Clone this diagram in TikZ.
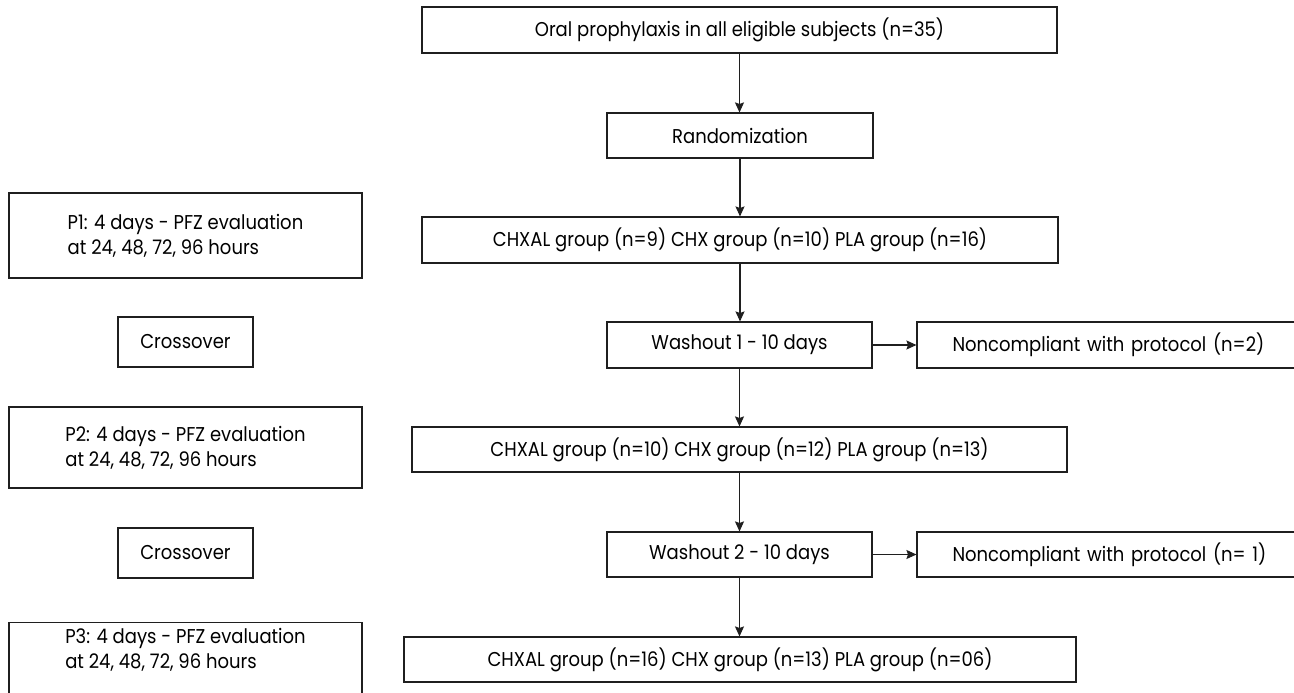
\documentclass[tikz,border=0pt]{standalone}
\usepackage{fontspec}
\setmainfont[FakeStretch=0.9]{Poppins}
\usetikzlibrary{arrows.meta}
\tikzset{
  txt/.style={font=\fontsize{20}{25}\selectfont},
  box/.style={draw=black!88, line width=1.1pt, rectangle, inner sep=0pt, align=center, txt},
  pbox/.style={box, align=left, minimum width=353pt},
  arr/.style={draw=black!88, line width=1.1pt, -{Stealth[length=10pt,width=9pt,inset=1.5pt]}}
}
\begin{document}
\begin{tikzpicture}[x=1pt,y=-1pt]
\useasboundingbox (0,0) rectangle (1294,693);
% centre column
\node[box, minimum width=635pt, minimum height=46pt] (b1) at (739.5,30) {Oral prophylaxis in all eligible subjects (n=35)};
\node[box, minimum width=266pt, minimum height=45pt] (rand) at (740,135.5) {Randomization};
\node[box, minimum width=636pt, minimum height=46pt] (g1) at (740,240) {CHXAL group (n=9) CHX group (n=10) PLA group (n=16)};
\node[box, minimum width=265pt, minimum height=46pt] (w1) at (739.5,345) {Washout 1 - 10 days};
\node[box, minimum width=379pt, minimum height=46pt, text width=340pt, align=left] (nc1) at (1106.5,345) {\hspace*{16pt}Noncompliant with protocol (n=2)};
\node[box, minimum width=655pt, minimum height=45pt] (g2) at (739.5,449.5) {CHXAL group (n=10) CHX group (n=12) PLA group (n=13)};
\node[box, minimum width=265pt, minimum height=45pt] (w2) at (739.5,554.5) {Washout 2 - 10 days};
\node[box, minimum width=379pt, minimum height=45pt, text width=340pt, align=left] (nc2) at (1106.5,554.5) {\hspace*{16pt}Noncompliant with protocol (n=~1)};
\node[box, minimum width=672pt, minimum height=45pt] (g3) at (740,659.5) {CHXAL group (n=16) CHX group (n=13) PLA group (n=06)};
% left column
\node[pbox, minimum height=85pt] (p1) at (185.5,235.5) {P1: 4 days - PFZ evaluation\\at 24, 48, 72, 96 hours};
\node[box, minimum width=135pt, minimum height=50pt] (c1) at (185.5,342) {Crossover};
\node[pbox, minimum height=81pt] (p2) at (185.5,447.5) {P2: 4 days - PFZ evaluation\\at 24, 48, 72, 96 hours};
\node[box, minimum width=135pt, minimum height=50pt] (c2) at (185.5,553) {Crossover};
\node[pbox, minimum height=90pt, anchor=north] (p3) at (185.5,622) {};
\node[txt, align=left, inner sep=0pt] (p3t) at (185.5,650) {P3: 4 days - PFZ evaluation\\at 24, 48, 72, 96 hours};
% connectors
\draw[arr] (b1.south) -- (b1.south |- rand.north);
\draw[arr] (rand.south) -- (rand.south |- g1.north);
\draw[arr] (g1.south) -- (g1.south |- w1.north);
\draw[arr] (w1.south) -- (w1.south |- g2.north);
\draw[arr] (g2.south) -- (g2.south |- w2.north);
\draw[arr] (w2.south) -- (w2.south |- g3.north);
\draw[arr] (w1.east) -- (nc1.west);
\draw[arr] (w2.east) -- (nc2.west);
\end{tikzpicture}
\end{document}
